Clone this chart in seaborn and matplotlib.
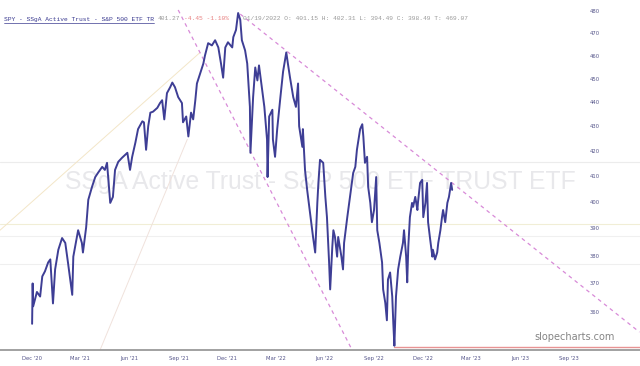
import numpy as np
import pandas as pd
import matplotlib
matplotlib.use("Agg")
import matplotlib.pyplot as plt
import matplotlib.ticker as mticker
import seaborn as sns

# ---- price series ----
dates = [
    "2020-12-01", "2020-12-02", "2020-12-03", "2020-12-10", "2020-12-16", "2020-12-20",
    "2020-12-25", "2020-12-31", "2021-01-04", "2021-01-09", "2021-01-13", "2021-01-19",
    "2021-01-26", "2021-02-01", "2021-02-06", "2021-02-14", "2021-02-16", "2021-02-25",
    "2021-03-04", "2021-03-06", "2021-03-12", "2021-03-16", "2021-03-23", "2021-03-29",
    "2021-04-03", "2021-04-11", "2021-04-16", "2021-04-20", "2021-04-26", "2021-05-01",
    "2021-05-05", "2021-05-11", "2021-05-18", "2021-05-24", "2021-05-28", "2021-06-02",
    "2021-06-06", "2021-06-12", "2021-06-17", "2021-06-25", "2021-06-28", "2021-07-02",
    "2021-07-06", "2021-07-10", "2021-07-15", "2021-07-23", "2021-07-28", "2021-08-01",
    "2021-08-05", "2021-08-10", "2021-08-16", "2021-08-20", "2021-08-25", "2021-08-31",
    "2021-09-07", "2021-09-09", "2021-09-15", "2021-09-19", "2021-09-24", "2021-09-28",
    "2021-10-02", "2021-10-05", "2021-10-11", "2021-10-17", "2021-10-20", "2021-10-26",
    "2021-11-02", "2021-11-08", "2021-11-14", "2021-11-19", "2021-11-23", "2021-11-27",
    "2021-12-02", "2021-12-10", "2021-12-12", "2021-12-17", "2021-12-21", "2021-12-25",
    "2021-12-28", "2022-01-03", "2022-01-07", "2022-01-12", "2022-01-13", "2022-01-18",
    "2022-01-22", "2022-01-26", "2022-01-29", "2022-02-04", "2022-02-08", "2022-02-13",
    "2022-02-14", "2022-02-17", "2022-02-23", "2022-02-24", "2022-02-28", "2022-03-04",
    "2022-03-10", "2022-03-15", "2022-03-21", "2022-03-24", "2022-03-28", "2022-04-03",
    "2022-04-08", "2022-04-12", "2022-04-14", "2022-04-20", "2022-04-21", "2022-04-25",
    "2022-04-29", "2022-05-03", "2022-05-08", "2022-05-10", "2022-05-14", "2022-05-18",
    "2022-05-20", "2022-05-23", "2022-05-29", "2022-05-31", "2022-06-02", "2022-06-05",
    "2022-06-09", "2022-06-11", "2022-06-15", "2022-06-17", "2022-06-20", "2022-06-24",
    "2022-06-26", "2022-07-02", "2022-07-05", "2022-07-07", "2022-07-13", "2022-07-18",
    "2022-07-24", "2022-07-28", "2022-07-31", "2022-08-06", "2022-08-10", "2022-08-12",
    "2022-08-15", "2022-08-19", "2022-08-21", "2022-08-25", "2022-08-28", "2022-09-01",
    "2022-09-05", "2022-09-07", "2022-09-11", "2022-09-16", "2022-09-18", "2022-09-22",
    "2022-09-25", "2022-09-27", "2022-10-01", "2022-10-05", "2022-10-07", "2022-10-09",
    "2022-10-12", "2022-10-16", "2022-10-20", "2022-10-25", "2022-10-27", "2022-10-31",
    "2022-11-02", "2022-11-04", "2022-11-07", "2022-11-11", "2022-11-13", "2022-11-17",
    "2022-11-21", "2022-11-22", "2022-11-26", "2022-11-30", "2022-12-02", "2022-12-06",
    "2022-12-09", "2022-12-11", "2022-12-15", "2022-12-19", "2022-12-20", "2022-12-24",
    "2022-12-28", "2022-12-30", "2023-01-03", "2023-01-06", "2023-01-08", "2023-01-12",
    "2023-01-16", "2023-01-19", "2023-01-23", "2023-01-25",
]
prices = [
    356.0, 370.0, 362.0, 367.0, 365.4, 372.5,
    374.3, 377.5, 378.6, 363.0, 375.0, 382.1,
    386.4, 384.6, 377.5, 366.0, 379.6, 389.3,
    384.6, 381.1, 390.4, 400.8, 405.8, 409.6,
    411.2, 413.6, 412.4, 415.2, 399.6, 401.9,
    412.4, 415.6, 417.2, 418.4, 419.2, 412.4,
    417.6, 423.3, 428.8, 432.0, 431.6, 420.4,
    430.0, 435.6, 436.0, 437.6, 439.6, 440.8,
    432.8, 443.8, 446.3, 448.3, 446.3, 442.1,
    439.6, 431.6, 434.0, 425.8, 435.6, 432.8,
    440.8, 447.9, 452.2, 456.5, 460.0, 465.5,
    464.5, 466.8, 463.6, 456.5, 450.4, 463.6,
    465.9, 463.6, 468.2, 471.4, 479.1, 476.0,
    466.8, 462.3, 456.5, 438.0, 419.2, 442.1,
    454.8, 449.2, 455.7, 445.1, 438.0, 424.6,
    409.6, 434.0, 436.8, 424.6, 417.6, 428.8,
    442.1, 453.0, 461.4, 456.5, 450.4, 442.1,
    438.0, 447.9, 430.0, 421.6, 428.8, 412.4,
    404.6, 398.1, 390.4, 386.8, 381.1, 399.6,
    407.3, 416.4, 415.2, 408.5, 401.9, 394.2,
    377.5, 367.9, 383.2, 389.3, 386.8, 379.6,
    386.8, 379.6, 375.0, 384.6, 394.2, 401.9,
    411.2, 413.6, 420.4, 428.8, 430.8, 425.8,
    415.2, 417.6, 405.8, 399.6, 392.3, 396.9,
    409.6, 389.3, 384.6, 377.5, 367.9, 363.2,
    357.2, 371.4, 373.9, 365.4, 356.2, 348.6,
    365.4, 375.0, 379.6, 384.6, 389.3, 379.6,
    370.4, 383.2, 394.2, 399.6, 398.1, 401.9,
    396.9, 399.6, 407.3, 408.5, 394.2, 399.6,
    407.3, 392.3, 385.7, 379.6, 382.1, 378.6,
    381.1, 384.6, 389.3, 394.2, 396.9, 392.3,
    399.6, 401.9, 407.3, 404.6,
]

# ---- drawn trendlines / levels ----
upper_trend_dates = ["2021-12-25", "2024-01-10"]
upper_trend_prices = [478.6, 353.2]
lower_trend_dates = ["2021-08-31", "2022-07-22"]
lower_trend_prices = [480.5, 347.2]
fan1_dates = ["2020-10-02", "2021-10-11"]
fan1_prices = [389.3, 461.4]
fan2_dates = ["2021-04-07", "2021-09-17"]
fan2_prices = [347.2, 424.6]
level_prices = [415.6, 391.5, 387.1, 376.8]
level_colors = ["#ececec", "#f1eed6", "#f0f0f0", "#efefef"]
support_price = 348.3
support_start = "2022-10-09"

xtick_dates = ["2020-12-01", "2021-03-01", "2021-06-01", "2021-09-01", "2021-12-01",
               "2022-03-01", "2022-06-01", "2022-09-01", "2022-12-01", "2023-03-01",
               "2023-06-01", "2023-09-01"]
xtick_labels = ["Dec '20", "Mar '21", "Jun '21", "Sep '21", "Dec '21", "Mar '22",
                "Jun '22", "Sep '22", "Dec '22", "Mar '23", "Jun '23", "Sep '23"]
ytick_values = [360, 370, 380, 390, 400, 410, 420, 430, 440, 450, 460, 470, 480]

title_name = "SPY - SSgA Active Trust - S&P 500 ETF TR"
title_last = "401.27"
title_change = "-4.45 -1.10%"
title_ohlc = "01/19/2022 O: 401.15 H: 402.31 L: 394.49 C: 398.49 T: 469.07"
watermark = "SSgA Active Trust - S&P 500 ETF TRUST ETF"

# ---- plotting ----
sns.set_style("white")
plt.rcParams["font.family"] = ["DejaVu Sans"]

W, H = 640, 366
fig = plt.figure(figsize=(6.4, 3.66), dpi=100)
ax = fig.add_axes([0, 16 / H, 1, 350 / H])

df = pd.DataFrame({"date": pd.to_datetime(dates), "price": prices})

ax.set_yscale("log")
ax.set_ylim(347.2, 485.1)
ax.set_xlim(pd.Timestamp("2020-10-02"), pd.Timestamp("2024-01-11"))

for p, c in zip(level_prices, level_colors):
    ax.axhline(p, color=c, lw=0.8, zorder=0)

ax.text(0.5, 1 - 182 / 350, watermark, transform=ax.transAxes, ha="center", va="center",
        fontsize=17.8, color="#e8e8eb", family="Liberation Sans", zorder=0)

ax.plot(pd.to_datetime(fan1_dates), fan1_prices, color="#f3e6c8", lw=0.7, zorder=1)
ax.plot(pd.to_datetime(fan2_dates), fan2_prices, color="#f0e2dc", lw=0.7, zorder=1)

ax.plot(pd.to_datetime(upper_trend_dates), upper_trend_prices, color="#d88ad8",
        lw=0.9, ls=(0, (3, 3)), zorder=2)
ax.plot(pd.to_datetime(lower_trend_dates), lower_trend_prices, color="#d88ad8",
        lw=0.9, ls=(0, (3, 3)), zorder=2)

ax.plot([pd.Timestamp(support_start), pd.Timestamp("2024-01-11")],
        [support_price, support_price], color="#e89494", lw=1.0, zorder=2)

sns.lineplot(data=df, x="date", y="price", ax=ax, color="#3e3e95", lw=1.4, zorder=3)

ax.set_xlabel("")
ax.set_ylabel("")

for s in ["top", "left", "right"]:
    ax.spines[s].set_visible(False)
ax.spines["bottom"].set_color("#9a9a9a")
ax.spines["bottom"].set_linewidth(1.3)

ax.set_xticks(pd.to_datetime(xtick_dates))
ax.set_xticklabels(xtick_labels)
ax.tick_params(axis="x", length=0, pad=4, labelsize=3.8, labelcolor="#55558a")

ax.yaxis.set_major_locator(mticker.FixedLocator(ytick_values))
ax.yaxis.set_major_formatter(mticker.FormatStrFormatter("%d"))
ax.yaxis.set_minor_locator(mticker.NullLocator())
ax.tick_params(axis="y", which="both", length=0, labelleft=False, labelright=True,
               pad=-36, labelsize=3.8, labelcolor="#55558a")

# title strip (monospace, colored pieces at their positions in the header)
ty = 1 - 19 / H
fs = 4.5
renderer = fig.canvas.get_renderer()
pieces = [(title_name, "#3a3a90", 3.5), (title_last, "#999999", 158),
          (title_change, "#e88080", 184), (title_ohlc, "#999999", 243)]
name_end = None
for text, color, xp in pieces:
    t = fig.text(xp / W, ty, text, family="Liberation Mono", fontsize=fs,
                 color=color, va="center")
    if name_end is None:
        name_end = t.get_window_extent(renderer=renderer).x1
fig.add_artist(plt.Line2D([3.5 / W, name_end / W], [1 - 23 / H, 1 - 23 / H],
                          color="#3a3a90", lw=0.5))

fig.text(575 / W, 1 - 337 / H, "slopecharts.com", ha="center", va="center",
         fontsize=7, color="#858585", family="DejaVu Sans")

fig.savefig("out.png", dpi=100)
